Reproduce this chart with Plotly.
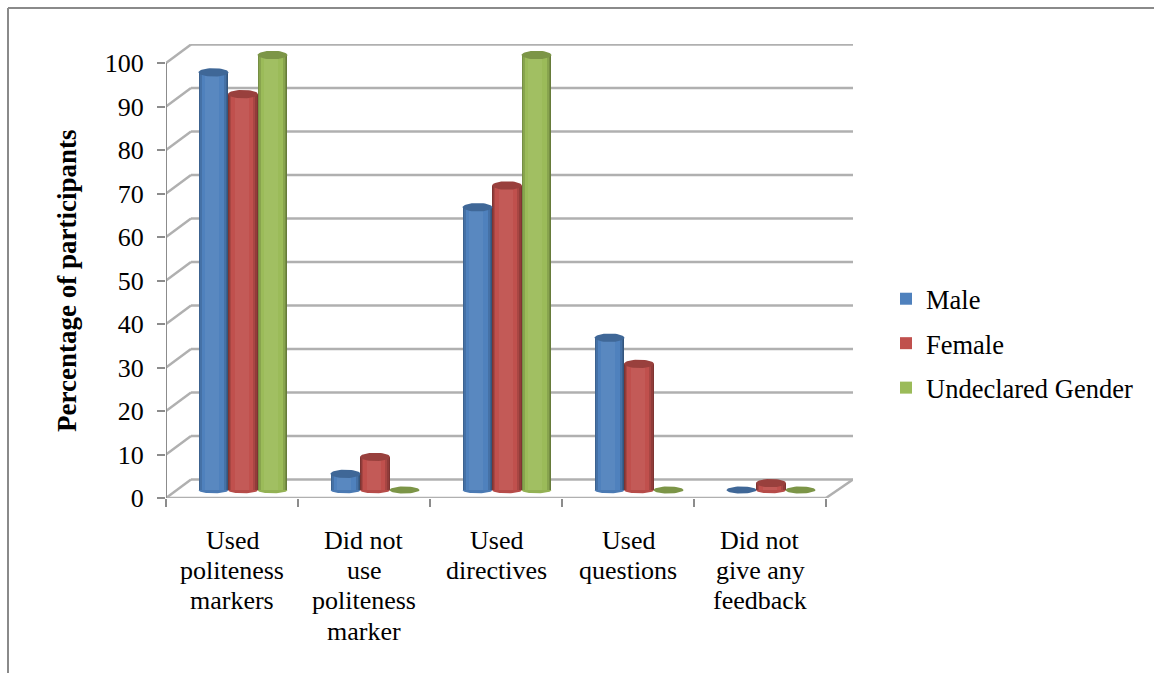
import numpy as np
import plotly.graph_objects as go

# Survey results, percentage of participants by gender
categories = [
    ["Used", "politeness", "markers"],
    ["Did not", "use", "politeness", "marker"],
    ["Used", "directives"],
    ["Used", "questions"],
    ["Did not", "give any", "feedback"],
]
male = [96, 3.7, 65, 35, 0]
female = [91, 7.6, 70, 29, 1.6]
undeclared = [100, 0, 100, 0, 0]
y_ticks = list(range(0, 101, 10))

series = [
    ("Male", male, "#4f81bd", -1),
    ("Female", female, "#c0504d", 0),
    ("Undeclared Gender", undeclared, "#9bbb59", 1),
]

FONT = "Liberation Serif"
WIDTH, HEIGHT = 1154, 673
LEFT, RIGHT, TOP, BOTTOM = 166, 853, 44, 498     # plot area in pixels
PX_X = 132.0                                     # pixels per category
PX_Y = 4.35                                      # pixels per percentage point

# Depth of the pseudo-3D box, in axis units
WALL_DX = 25 / PX_X
WALL_DY = 18.5 / PX_Y
BAR_W = 29.5 / PX_X
BAR_SHIFT = 11 / PX_X
FLOOR = 8 / PX_Y
CAP_RX = 15 / PX_X
CAP_RY = 4.2 / PX_Y

x_max = (RIGHT - LEFT) / PX_X
y_max = (BOTTOM - TOP) / PX_Y


def shade(hex_color, k):
    """Scale a colour towards black (k < 1) or white (k > 1)."""
    rgb = np.array([int(hex_color[i:i + 2], 16) for i in (1, 3, 5)], float)
    rgb = rgb * k if k <= 1 else rgb + (255 - rgb) * (k - 1)
    return "rgb(%d,%d,%d)" % tuple(np.clip(rgb, 0, 255))


def paper_x(px):
    return (px - LEFT) / (RIGHT - LEFT)


def paper_y(py):
    return (BOTTOM - py) / (BOTTOM - TOP)


fig = go.Figure()

# Cylinder bodies: nested bars, darkest at the edge, brightest in the middle
layers = [(1.00, 0.66), (0.94, 0.76), (0.86, 0.88), (0.74, 1.0), (0.48, 1.06)]
for name, values, color, slot in series:
    centers = [i + 0.5 + BAR_SHIFT + slot * BAR_W for i in range(len(values))]
    for frac, k in layers:
        fig.add_trace(go.Bar(
            x=[c - (1 - frac) * 0.02 for c in centers],
            y=values,
            base=FLOOR,
            width=BAR_W * frac,
            marker=dict(color=color if k == 1.0 else shade(color, k), line=dict(width=0)),
            name=name,
            legendgroup=name,
            showlegend=k == 1.0,
            hoverinfo="skip",
        ))

# Rounded bottoms and elliptical tops of the cylinders
t = np.linspace(0, 2 * np.pi, 49)
for name, values, color, slot in series:
    for i, v in enumerate(values):
        cx = i + 0.5 + BAR_SHIFT + slot * BAR_W
        if v > 0:
            half = np.linspace(np.pi, 2 * np.pi, 25)
            fig.add_trace(go.Scatter(
                x=cx + CAP_RX * np.cos(half), y=FLOOR + CAP_RY * 0.8 * np.sin(half),
                mode="lines", line=dict(width=0), fill="toself",
                fillcolor=shade(color, 0.95), showlegend=False, hoverinfo="skip",
            ))
        fig.add_trace(go.Scatter(
            x=cx + CAP_RX * np.cos(t), y=FLOOR + v + CAP_RY * np.sin(t) * (1 if v > 0 else 0.85),
            mode="lines", line=dict(width=0), fill="toself",
            fillcolor=shade(color, 0.8), showlegend=False, hoverinfo="skip",
        ))

# Box wireframe: back wall gridlines, side wall diagonals, floor and left axis
GRID = "#b0b0b0"
AXIS = "#8c8c8c"
shapes = []
for v in y_ticks:
    shapes.append(dict(type="line", layer="below", xref="x", yref="y", x0=WALL_DX, x1=x_max,
                       y0=v + WALL_DY, y1=v + WALL_DY, line=dict(color=GRID, width=2.5)))
    shapes.append(dict(type="line", layer="below", xref="x", yref="y", x0=0, x1=WALL_DX,
                       y0=v, y1=v + WALL_DY, line=dict(color=GRID, width=2.5)))
shapes += [
    dict(type="line", layer="below", xref="x", yref="y", x0=5, x1=x_max, y0=0, y1=WALL_DY,
         line=dict(color=GRID, width=2.5)),
    dict(type="line", layer="below", xref="x", yref="y", x0=0, x1=5, y0=0, y1=0,
         line=dict(color=GRID, width=2.5)),
    dict(type="line", layer="below", xref="x", yref="y", x0=0, x1=0, y0=0, y1=100,
         line=dict(color=AXIS, width=2)),
    # Outer frame along the top and left of the page
    dict(type="line", xref="paper", yref="paper", x0=paper_x(8), x1=paper_x(WIDTH),
         y0=paper_y(8), y1=paper_y(8), line=dict(color="#8a8a8a", width=2)),
    dict(type="line", xref="paper", yref="paper", x0=paper_x(8), x1=paper_x(8),
         y0=paper_y(8), y1=paper_y(HEIGHT), line=dict(color="#8a8a8a", width=2)),
]

# Category labels, set line by line for tight leading
annotations = []
for i, lines in enumerate(categories):
    for j, text in enumerate(lines):
        annotations.append(dict(
            x=i + 0.5, y=0, xref="x", yref="y", text=text, showarrow=False,
            xanchor="center", yanchor="middle", yshift=-(42 + j * 30.4),
            font=dict(family=FONT, size=26, color="#000000"),
        ))

# Vertical axis title
annotations.append(dict(
    x=paper_x(67), y=paper_y(281), xref="paper", yref="paper",
    text="<b>Percentage of participants</b>", showarrow=False, textangle=-90,
    xanchor="center", yanchor="middle",
    font=dict(family=FONT, size=27, color="#000000"),
))

fig.update_layout(
    width=WIDTH, height=HEIGHT, autosize=False,
    margin=dict(l=LEFT, r=WIDTH - RIGHT, t=TOP, b=HEIGHT - BOTTOM, pad=0),
    paper_bgcolor="white", plot_bgcolor="white",
    barmode="overlay", bargap=0,
    font=dict(family=FONT, size=26, color="#000000"),
    shapes=shapes, annotations=annotations,
    xaxis=dict(
        range=[0, x_max], showgrid=False, zeroline=False, showline=False,
        tickmode="array", tickvals=[0, 1, 2, 3, 4, 5], showticklabels=False,
        ticks="outside", ticklen=8, tickwidth=2, tickcolor=AXIS,
    ),
    yaxis=dict(
        range=[0, y_max], showgrid=False, zeroline=False, showline=False,
        tickmode="array", tickvals=y_ticks, ticks="outside", ticklen=8, tickwidth=2,
        tickcolor=AXIS, ticklabelstandoff=8,
        tickfont=dict(family=FONT, size=26, color="#000000"),
    ),
    legend=dict(
        x=paper_x(886), y=paper_y(275), xanchor="left", yanchor="top",
        font=dict(family=FONT, size=26.5, color="#000000"),
        tracegroupgap=7, bgcolor="rgba(0,0,0,0)", itemclick=False, itemdoubleclick=False,
    ),
    showlegend=True,
)

fig.write_html("out.html")
